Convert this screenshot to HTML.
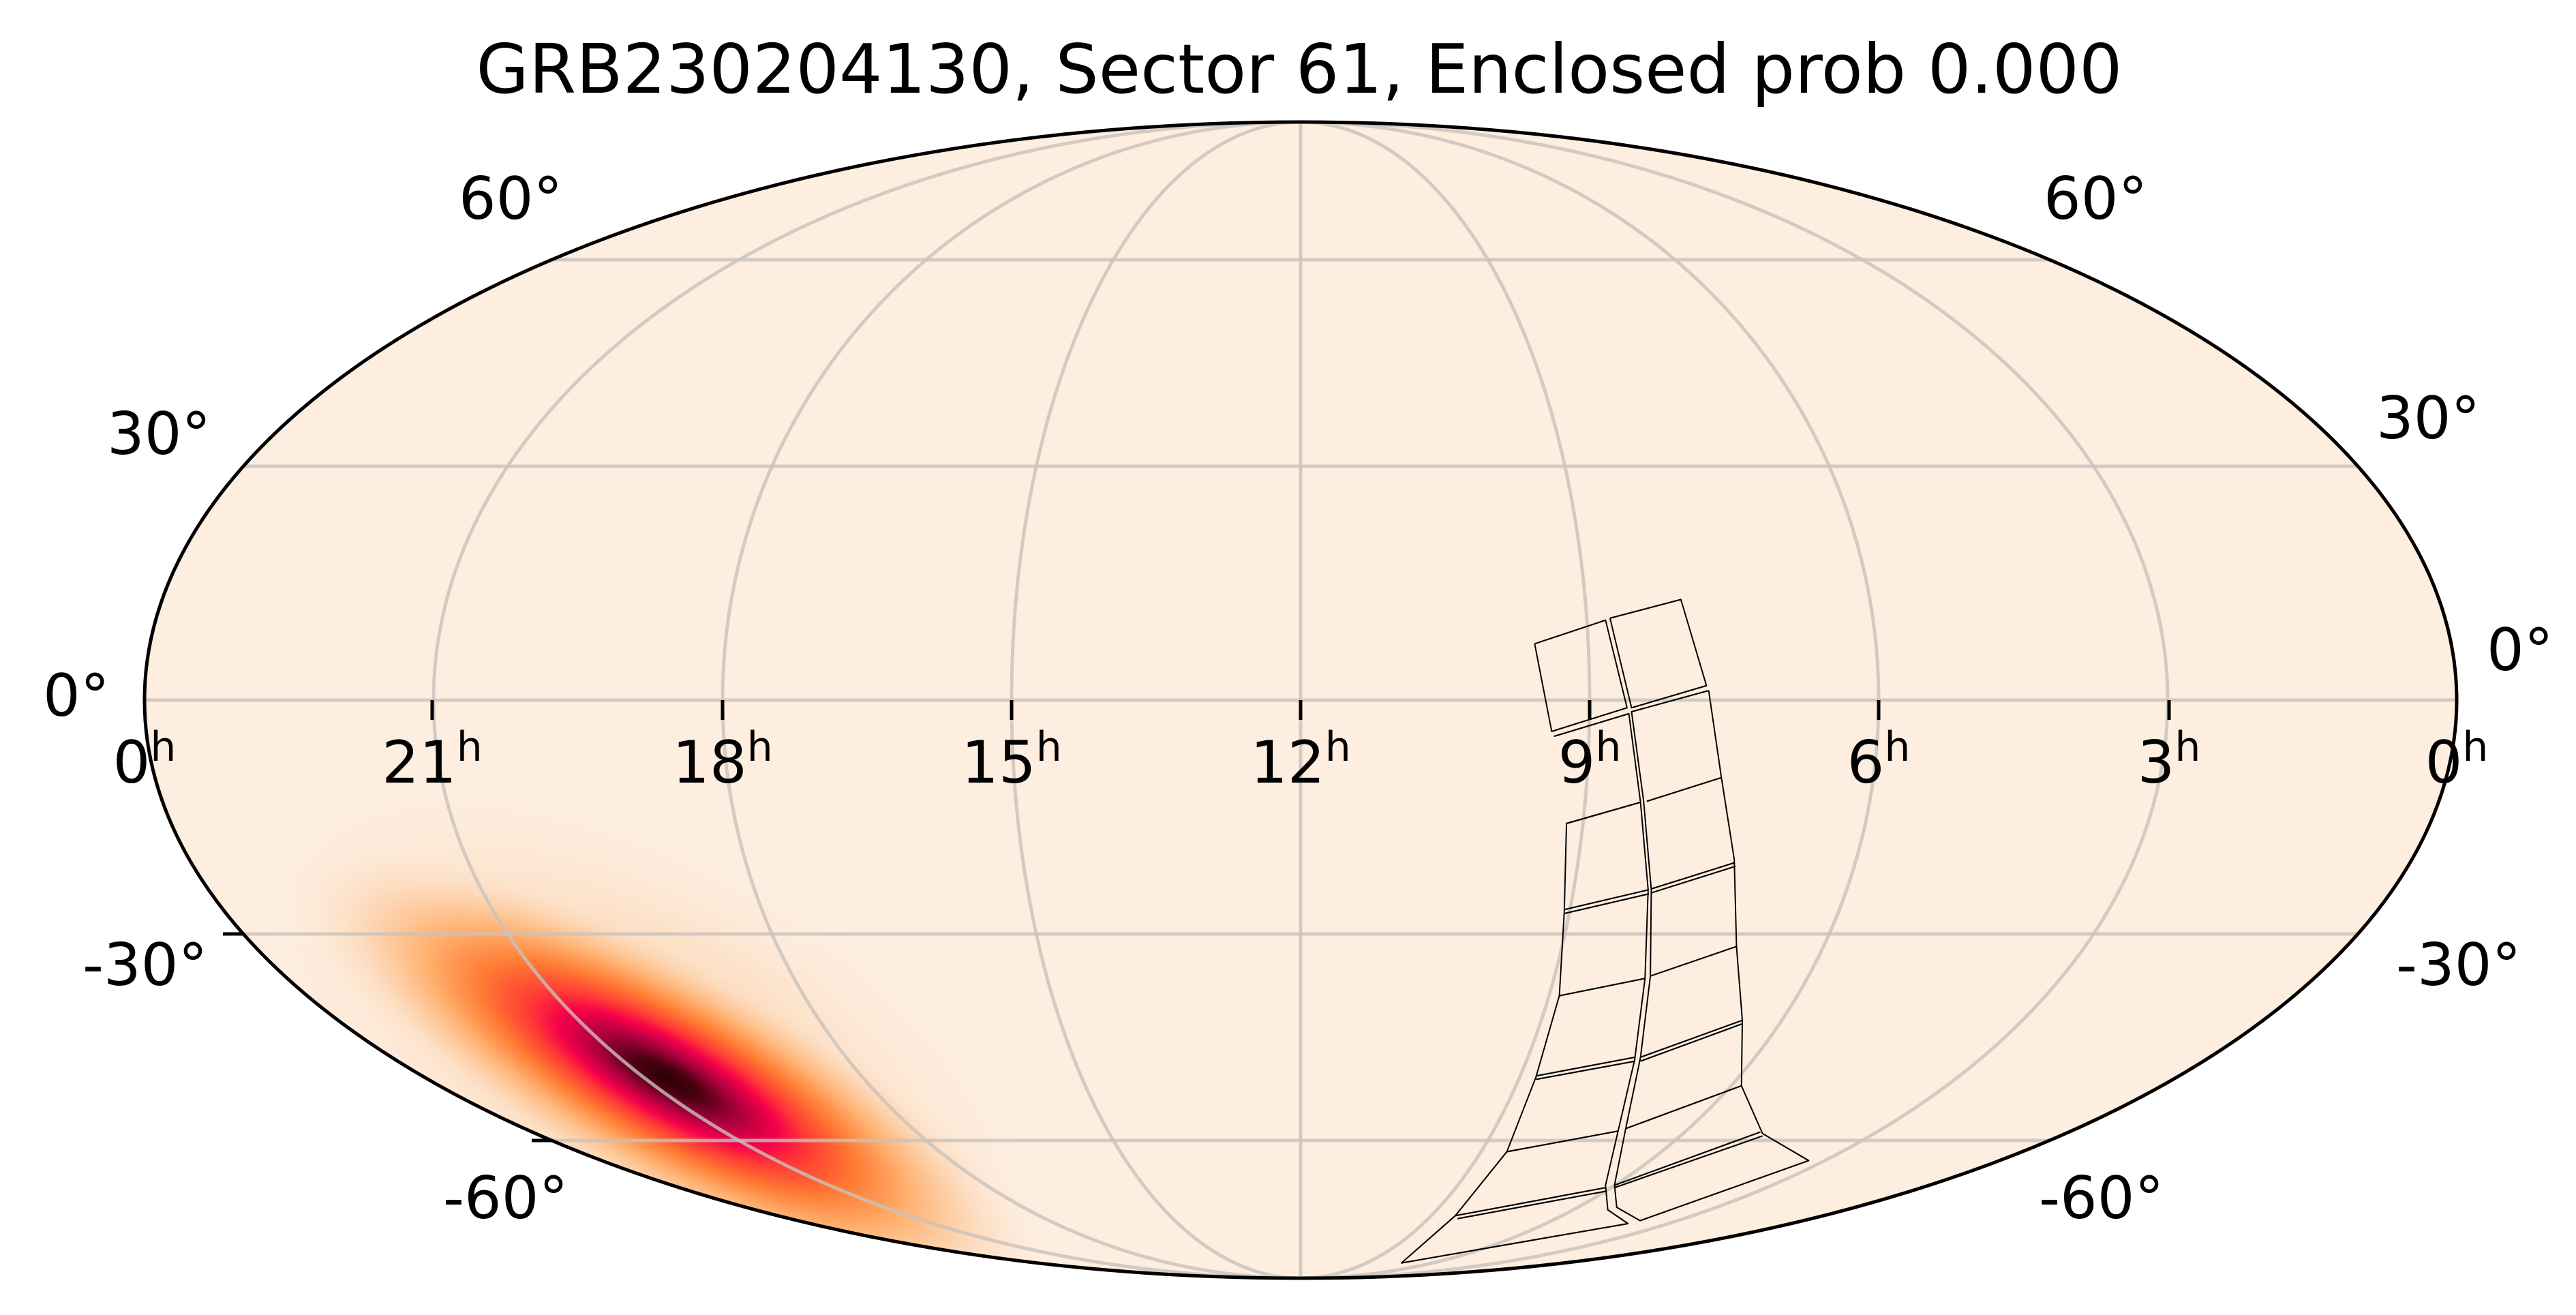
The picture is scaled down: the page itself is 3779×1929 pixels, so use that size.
<!DOCTYPE html>
<html><head><meta charset="utf-8"><style>
html,body{margin:0;padding:0;background:#fff;overflow:hidden;width:3779px;height:1929px;}
svg{display:block;}
text{font-family:"DejaVu Sans","Liberation Sans",sans-serif;fill:#000;}
</style></head><body>
<svg width="3779" height="1929" viewBox="0 0 3779 1929" xmlns="http://www.w3.org/2000/svg">
<defs>
<clipPath id="moll"><ellipse cx="1908" cy="1027" rx="1696" ry="848"/></clipPath>
<radialGradient id="halo" cx="0.5" cy="0.5" r="0.5">
<stop offset="0" stop-color="#fdc898" stop-opacity="1"/>
<stop offset="0.5" stop-color="#fdd6b4" stop-opacity="0.6"/>
<stop offset="1" stop-color="#fdeee0" stop-opacity="0"/>
</radialGradient>
<radialGradient id="core" cx="0.5" cy="0.5" r="0.5">
<stop offset="0" stop-color="#2a0005"/>
<stop offset="0.08" stop-color="#4a0010"/>
<stop offset="0.18" stop-color="#a8003e"/>
<stop offset="0.28" stop-color="#f5004a"/>
<stop offset="0.36" stop-color="#ff3a35"/>
<stop offset="0.48" stop-color="#ff7a32"/>
<stop offset="0.62" stop-color="#ffb06e"/>
<stop offset="0.8" stop-color="#fdd6b4" stop-opacity="0.7"/>
<stop offset="1" stop-color="#fdeee0" stop-opacity="0"/>
</radialGradient>
</defs>
<ellipse cx="1908" cy="1027" rx="1696" ry="848" fill="#fdeee0"/>
<g clip-path="url(#moll)">
<ellipse cx="950" cy="1550" rx="680" ry="330" fill="url(#halo)" transform="rotate(29 950 1550)"/>
<ellipse cx="980" cy="1582" rx="640" ry="190" fill="url(#core)" transform="rotate(29 980 1582)"/>
</g>
<g fill="none" stroke="#c8c2bc" stroke-opacity="0.8" stroke-width="5" clip-path="url(#moll)">
<line x1="200" y1="1027" x2="3620" y2="1027"/>
<line x1="200" y1="684" x2="3620" y2="684"/>
<line x1="200" y1="1370" x2="3620" y2="1370"/>
<line x1="200" y1="381" x2="3620" y2="381"/>
<line x1="200" y1="1673" x2="3620" y2="1673"/>
<line x1="1908" y1="170" x2="1908" y2="1880"/>
<ellipse cx="1908" cy="1027" rx="424" ry="848"/>
<ellipse cx="1908" cy="1027" rx="848" ry="848"/>
<ellipse cx="1908" cy="1027" rx="1272" ry="848"/>
</g>
<g stroke="#000" stroke-width="5">
<line x1="634" y1="1027" x2="634" y2="1056"/>
<line x1="1060" y1="1027" x2="1060" y2="1056"/>
<line x1="1484" y1="1027" x2="1484" y2="1056"/>
<line x1="1908" y1="1027" x2="1908" y2="1056"/>
<line x1="2332" y1="1027" x2="2332" y2="1056"/>
<line x1="2756" y1="1027" x2="2756" y2="1056"/>
<line x1="3182" y1="1027" x2="3182" y2="1056"/>
<line x1="327" y1="1370" x2="357" y2="1370"/>
<line x1="780" y1="1673" x2="810" y2="1673"/>
</g>
<g transform="translate(2000,800) scale(0.658,0.722)" fill="none" stroke="#000" stroke-width="3" stroke-linejoin="round">
<polyline points="382,200 540,152 588,330 420,378 382,200"/>
<polyline points="550,148 708,110 765,285 598,330 550,148"/>
<polyline points="425,388 592,342 618,522 453,565 448,745 437,915 385,1080 320,1232 205,1362 85,1458 590,1378 545,1350 540,1300 568,1190 605,1045 628,880 635,700 618,522"/>
<polyline points="770,295 798,470 827,638 832,815 845,965 843,1098 890,1195 993,1250 617,1372 565,1345 560,1300 585,1185 618,1040 640,875 642,700 625,520 598,338 770,295"/>
<line x1="453" y1="565" x2="618" y2="522"/>
<line x1="448" y1="740" x2="635" y2="700"/>
<line x1="448" y1="748" x2="637" y2="708"/>
<line x1="437" y1="915" x2="628" y2="880"/>
<line x1="385" y1="1078" x2="605" y2="1040"/>
<line x1="385" y1="1085" x2="606" y2="1048"/>
<line x1="320" y1="1232" x2="568" y2="1190"/>
<line x1="205" y1="1362" x2="540" y2="1305"/>
<line x1="210" y1="1368" x2="542" y2="1312"/>
<line x1="632" y1="520" x2="798" y2="472"/>
<line x1="642" y1="698" x2="827" y2="645"/>
<line x1="642" y1="706" x2="830" y2="652"/>
<line x1="640" y1="875" x2="832" y2="815"/>
<line x1="618" y1="1040" x2="845" y2="965"/>
<line x1="618" y1="1048" x2="845" y2="972"/>
<line x1="585" y1="1185" x2="843" y2="1098"/>
<line x1="560" y1="1300" x2="885" y2="1192"/>
<line x1="560" y1="1305" x2="890" y2="1200"/>
</g>
<ellipse cx="1908" cy="1027" rx="1696" ry="848" fill="none" stroke="#000" stroke-width="5"/>
<text x="1906" y="136" font-size="100" text-anchor="middle" textLength="2415" lengthAdjust="spacingAndGlyphs">GRB230204130, Sector 61, Enclosed prob 0.000</text>
<g font-size="86">
<text x="673" y="321">60°</text>
<text x="2998" y="321">60°</text>
<text x="157" y="666">30°</text>
<text x="3486" y="643">30°</text>
<text x="63" y="1050">0°</text>
<text x="3648" y="983">0°</text>
<text x="121" y="1445">-30°</text>
<text x="3515" y="1445">-30°</text>
<text x="650" y="1787">-60°</text>
<text x="2991" y="1787">-60°</text>
</g>
<g font-size="86" text-anchor="middle">
<text x="212" y="1148">0<tspan font-size="60" dy="-32">h</tspan></text>
<text x="634" y="1148">21<tspan font-size="60" dy="-32">h</tspan></text>
<text x="1060" y="1148">18<tspan font-size="60" dy="-32">h</tspan></text>
<text x="1484" y="1148">15<tspan font-size="60" dy="-32">h</tspan></text>
<text x="1908" y="1148">12<tspan font-size="60" dy="-32">h</tspan></text>
<text x="2332" y="1148">9<tspan font-size="60" dy="-32">h</tspan></text>
<text x="2756" y="1148">6<tspan font-size="60" dy="-32">h</tspan></text>
<text x="3182" y="1148">3<tspan font-size="60" dy="-32">h</tspan></text>
<text x="3604" y="1148">0<tspan font-size="60" dy="-32">h</tspan></text>
</g>
</svg>
</body></html>
